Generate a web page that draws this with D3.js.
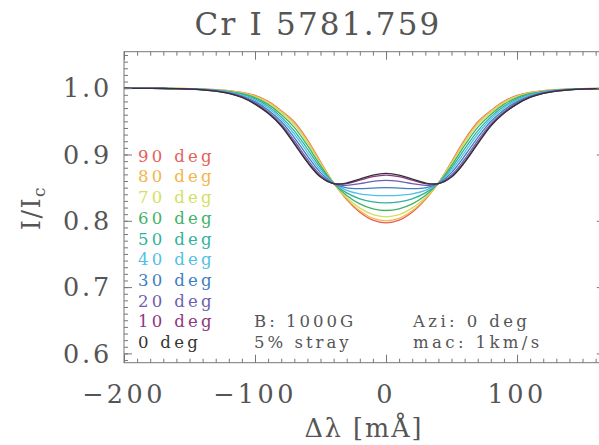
<!DOCTYPE html>
<html>
<head>
<meta charset="utf-8">
<script src="https://cdn.jsdelivr.net/npm/d3@7"></script>
<style>
  body { margin: 0; background: #fff; }
  svg { display: block; }
  text { font-family: "DejaVu Serif", serif; fill: #555; }
</style>
</head>
<body>
<svg id="chart" width="599" height="445"></svg>
<script>
// Wavelength offset grid (mÅ)
const dLambda = [-200, -190, -180, -170, -160, -150, -140, -130, -120, -110,
                 -100, -90, -80, -70, -60, -50, -40, -30, -20, -10,
                 0, 10, 20, 30, 40, 50, 60, 70, 80, 90,
                 100, 110, 120, 130, 140, 150, 160, 170];

// Normalised Stokes I profiles for each field inclination
const deg0  = [.9999,.9998,.9997,.9995,.9992,.9986,.9975,.9955,.9920,.9860,.9760,.9620,.9430,.9160,.8880,.8660,.8560,.8570,.8630,.8690,
               .8715,
               .8690,.8630,.8570,.8560,.8660,.8880,.9160,.9430,.9620,.9760,.9860,.9920,.9955,.9975,.9986,.9992,.9995];
const deg10 = [.9999,.9998,.9997,.9995,.9992,.9986,.9975,.9956,.9921,.9863,.9764,.9626,.9438,.9171,.8892,.8668,.8560,.8562,.8613,.8667,
               .8690,
               .8667,.8613,.8562,.8560,.8668,.8892,.9171,.9438,.9626,.9764,.9863,.9921,.9956,.9975,.9986,.9992,.9995];
const deg20 = [.9999,.9998,.9997,.9995,.9992,.9987,.9977,.9958,.9926,.9871,.9778,.9645,.9462,.9207,.8928,.8692,.8561,.8535,.8560,.8594,
               .8610,
               .8594,.8560,.8535,.8561,.8692,.8928,.9207,.9462,.9645,.9778,.9871,.9926,.9958,.9977,.9987,.9992,.9995];
const deg30 = [.9999,.9998,.9997,.9996,.9993,.9988,.9978,.9962,.9932,.9882,.9798,.9672,.9497,.9255,.8978,.8727,.8563,.8498,.8486,.8494,
               .8500,
               .8494,.8486,.8498,.8563,.8727,.8978,.9255,.9497,.9672,.9798,.9882,.9932,.9962,.9978,.9988,.9993,.9996];
const deg40 = [.9999,.9998,.9997,.9996,.9993,.9989,.9980,.9965,.9939,.9894,.9819,.9701,.9534,.9309,.9033,.8764,.8565,.8458,.8405,.8384,
               .8380,
               .8384,.8405,.8458,.8565,.8764,.9033,.9309,.9534,.9701,.9819,.9894,.9939,.9965,.9980,.9989,.9993,.9996];
const deg50 = [.9999,.9998,.9998,.9996,.9994,.9990,.9982,.9969,.9945,.9905,.9838,.9727,.9567,.9357,.9083,.8797,.8566,.8421,.8332,.8284,
               .8270,
               .8284,.8332,.8421,.8566,.8797,.9083,.9357,.9567,.9727,.9838,.9905,.9945,.9969,.9982,.9990,.9994,.9996];
const deg60 = [1.000,.9999,.9998,.9997,.9994,.9991,.9984,.9972,.9952,.9916,.9858,.9755,.9603,.9408,.9136,.8833,.8568,.8382,.8254,.8179,
               .8155,
               .8179,.8254,.8382,.8568,.8833,.9136,.9408,.9603,.9755,.9858,.9916,.9952,.9972,.9984,.9991,.9994,.9997];
const deg70 = [1.000,.9999,.9998,.9997,.9995,.9991,.9986,.9975,.9957,.9926,.9874,.9778,.9632,.9450,.9179,.8862,.8569,.8350,.8191,.8092,
               .8060,
               .8092,.8191,.8350,.8569,.8862,.9179,.9450,.9632,.9778,.9874,.9926,.9957,.9975,.9986,.9991,.9995,.9997];
const deg80 = [1.000,.9999,.9998,.9997,.9995,.9992,.9987,.9977,.9960,.9932,.9885,.9793,.9651,.9477,.9206,.8881,.8570,.8330,.8150,.8037,
               .8000,
               .8037,.8150,.8330,.8570,.8881,.9206,.9477,.9651,.9793,.9885,.9932,.9960,.9977,.9987,.9992,.9995,.9997];
const deg90 = [1.000,.9999,.9998,.9997,.9995,.9992,.9987,.9978,.9962,.9935,.9890,.9800,.9660,.9490,.9220,.8890,.8570,.8320,.8130,.8010,
               .7970,
               .8010,.8130,.8320,.8570,.8890,.9220,.9490,.9660,.9800,.9890,.9935,.9962,.9978,.9987,.9992,.9995,.9997];

// Drawing order: 90 deg first, 0 deg last (on top)
const seriesLabels = ["90 deg", "80 deg", "70 deg", "60 deg", "50 deg", "40 deg", "30 deg", "20 deg", "10 deg", "0 deg"];
const seriesValues = [deg90, deg80, deg70, deg60, deg50, deg40, deg30, deg20, deg10, deg0];
const seriesColors = ["#e5605a", "#f3b548", "#d2df62", "#3fb267", "#2fb29c", "#52c0e6", "#3b7fc2", "#6e5fb0", "#8e3581", "#333333"];

const xTickValues = [-200, -100, 0, 100];
const xTickLabels = ["\u2212200", "\u2212100", "0", "100"];
const yTickValues = [0.6, 0.7, 0.8, 0.9, 1.0];
const yTickLabels = ["0.6", "0.7", "0.8", "0.9", "1.0"];

const titleText = "Cr I 5781.759";
const noteLeft = ["B: 1000G", "5% stray"];
const noteRight = ["Azi: 0 deg", "mac: 1km/s"];

// Layout
const plot = { left: 124, right: 604.8, top: 51.7, bottom: 362.7 };
const axisColor = "#777";

const svg = d3.select("#chart");
svg.append("rect").attr("width", 599).attr("height", 445).attr("fill", "#fff");

const x = d3.scaleLinear().domain([-200, 167]).range([plot.left, plot.right]);
const y = d3.scaleLinear().domain([0.586, 1.055]).range([plot.bottom, plot.top]);

svg.append("clipPath").attr("id", "plotClip")
  .append("rect")
  .attr("x", plot.left).attr("y", plot.top)
  .attr("width", plot.right - plot.left).attr("height", plot.bottom - plot.top);

// Profiles
const line = d3.line()
  .x((d, i) => x(dLambda[i]))
  .y(d => y(d))
  .curve(d3.curveCatmullRom.alpha(0.5));

svg.append("g").attr("clip-path", "url(#plotClip)")
  .selectAll("path")
  .data(seriesValues)
  .join("path")
  .attr("d", line)
  .attr("fill", "none")
  .attr("stroke", (d, i) => seriesColors[i])
  .attr("stroke-width", 1.3);

// Axes: ticks point into the plot on all four sides
const xMinor = d3.range(-200, 167, 10);
const yMinor = d3.range(59, 106, 1).map(v => v / 100);

function ticks(g) { g.attr("color", axisColor); g.select(".domain").remove(); }

svg.append("g").attr("transform", `translate(0,${plot.bottom})`)
  .call(d3.axisBottom(x).tickValues(xMinor).tickSize(-4).tickFormat("")).call(ticks);
svg.append("g").attr("transform", `translate(0,${plot.bottom})`)
  .call(d3.axisBottom(x).tickValues(xTickValues).tickSize(-8).tickFormat("")).call(ticks);
svg.append("g").attr("transform", `translate(0,${plot.top})`)
  .call(d3.axisTop(x).tickValues(xMinor).tickSize(-4).tickFormat("")).call(ticks);
svg.append("g").attr("transform", `translate(0,${plot.top})`)
  .call(d3.axisTop(x).tickValues(xTickValues).tickSize(-8).tickFormat("")).call(ticks);

svg.append("g").attr("transform", `translate(${plot.left},0)`)
  .call(d3.axisLeft(y).tickValues(yMinor).tickSize(-4).tickFormat("")).call(ticks);
svg.append("g").attr("transform", `translate(${plot.left},0)`)
  .call(d3.axisLeft(y).tickValues(yTickValues).tickSize(-8).tickFormat("")).call(ticks);
svg.append("g").attr("transform", `translate(${plot.right},0)`)
  .call(d3.axisRight(y).tickValues(yMinor).tickSize(-4).tickFormat("")).call(ticks);
svg.append("g").attr("transform", `translate(${plot.right},0)`)
  .call(d3.axisRight(y).tickValues(yTickValues).tickSize(-8).tickFormat("")).call(ticks);

svg.append("rect")
  .attr("x", plot.left).attr("y", plot.top)
  .attr("width", plot.right - plot.left).attr("height", plot.bottom - plot.top)
  .attr("fill", "none").attr("stroke", axisColor).attr("stroke-width", 1);

// Tick labels
svg.append("g").selectAll("text")
  .data(xTickValues)
  .join("text")
  .attr("x", d => x(d)).attr("y", 403)
  .attr("text-anchor", "middle")
  .attr("font-size", 25.5).attr("letter-spacing", 3.5)
  .text((d, i) => xTickLabels[i]);

svg.append("g").selectAll("text")
  .data(yTickValues)
  .join("text")
  .attr("x", 112).attr("y", d => y(d) + 9.3)
  .attr("text-anchor", "end")
  .attr("font-size", 25.5).attr("letter-spacing", 2.8)
  .text((d, i) => yTickLabels[i]);

// Title and axis titles
svg.append("text")
  .attr("x", 318).attr("y", 35)
  .attr("text-anchor", "middle")
  .attr("font-size", 31).attr("letter-spacing", 2.2)
  .text(titleText);

const xTitle = svg.append("text")
  .attr("x", 364).attr("y", 437)
  .attr("text-anchor", "middle")
  .attr("font-size", 25.5).attr("letter-spacing", 2);
xTitle.append("tspan").text("\u0394\u03bb");
xTitle.append("tspan").attr("dx", 10).text("[m\u00c5]");

const yTitle = svg.append("text")
  .attr("transform", "translate(40,208) rotate(-90)")
  .attr("text-anchor", "middle")
  .attr("font-size", 25.5).attr("letter-spacing", 1.5);
yTitle.append("tspan").text("I/I");
yTitle.append("tspan").attr("font-size", 17).attr("dy", 5).text("c");

// Inclination legend
svg.append("g").selectAll("text")
  .data(seriesLabels)
  .join("text")
  .attr("x", 138).attr("y", (d, i) => 161.7 + i * 20.7)
  .attr("font-size", 16.5).attr("letter-spacing", 3.3)
  .style("fill", (d, i) => seriesColors[i])
  .text(d => d);

// Model parameters
svg.append("g").selectAll("text")
  .data(noteLeft)
  .join("text")
  .attr("x", 254).attr("y", (d, i) => 327 + i * 20.7)
  .attr("font-size", 16.5).attr("letter-spacing", 3)
  .text(d => d);

svg.append("g").selectAll("text")
  .data(noteRight)
  .join("text")
  .attr("x", 413).attr("y", (d, i) => 327 + i * 20.7)
  .attr("font-size", 16.5).attr("letter-spacing", 3.4)
  .text(d => d);
</script>
</body>
</html>
